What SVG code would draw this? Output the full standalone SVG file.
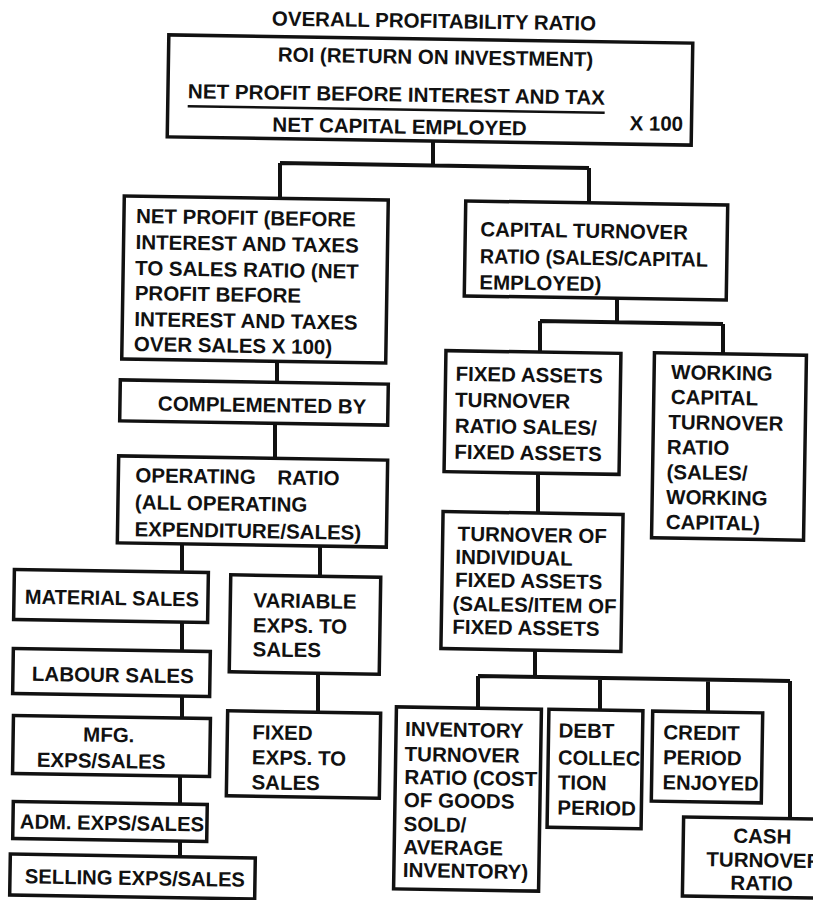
<svg xmlns="http://www.w3.org/2000/svg" width="813" height="900" viewBox="0 0 813 900">
  <style>
    .box { fill: #fff; stroke: #111; stroke-width: 3.5; }
    .lbl { font-family: "Liberation Sans", Arial, Helvetica, sans-serif; font-weight: bold; font-size: 20.5px; fill: #111; }
    .mid { text-anchor: middle; }
    .wire { fill: none; stroke: #111; stroke-width: 4; stroke-linejoin: miter; }
  </style>
  <rect width="813" height="900" fill="#fff"/>

  <text class="lbl mid" x="434" y="28" transform="rotate(0.9 434 22)">OVERALL PROFITABILITY RATIO</text>

  <!-- tree connectors (the page is set slightly askew, so the long bars slope a little) -->
  <g id="connectors" class="wire">
    <path d="M433 138 V165 M280 163 L589 168 M280 163 V198 M589 168 V203"/>
    <path d="M277 361 V382"/>
    <path d="M275 423 V458"/>
    <path d="M182 545 V571 M320 547 V576"/>
    <path d="M182 621 V650"/>
    <path d="M182 695 V717"/>
    <path d="M180 775 V803"/>
    <path d="M180 840 V856"/>
    <path d="M318 673 V712"/>
    <path d="M617 298 V322 M540 321 L723 324 M540 321 V352 M723 324 V354"/>
    <path d="M538 473 V513"/>
    <path d="M535 650 V677 M478 676 L790 681 M478 676 V708 M600 678 V710 M708 680 V712 M790 681 V818"/>
  </g>

  <g id="roi" transform="rotate(0.9 430 90)">
    <rect class="box" x="168" y="39" width="524" height="102"/>
    <text class="lbl mid" x="435" y="64">ROI (RETURN ON INVESTMENT)</text>
    <text class="lbl" x="188" y="102" textLength="417" lengthAdjust="spacingAndGlyphs">NET PROFIT BEFORE INTEREST AND TAX</text>
    <line x1="188" y1="110" x2="605" y2="110" stroke="#111" stroke-width="2.5"/>
    <text class="lbl" x="273" y="134">NET CAPITAL EMPLOYED</text>
    <text class="lbl" x="630" y="127">X 100</text>
  </g>

  <g id="net-profit" transform="rotate(0.9 255 280)">
    <rect class="box" x="123" y="198" width="264" height="163"/>
    <text class="lbl" x="135" y="225">NET PROFIT (BEFORE</text>
    <text class="lbl" x="135" y="251">INTEREST AND TAXES</text>
    <text class="lbl" x="135" y="277">TO SALES RATIO (NET</text>
    <text class="lbl" x="135" y="302">PROFIT BEFORE</text>
    <text class="lbl" x="135" y="328">INTEREST AND TAXES</text>
    <text class="lbl" x="135" y="353">OVER SALES X 100)</text>
  </g>

  <g id="capital-turnover" transform="rotate(0.9 596 250)">
    <rect class="box" x="465" y="203" width="262" height="95"/>
    <text class="lbl" x="480" y="238">CAPITAL TURNOVER</text>
    <text class="lbl" x="480" y="265" textLength="228" lengthAdjust="spacingAndGlyphs">RATIO (SALES/CAPITAL</text>
    <text class="lbl" x="480" y="291">EMPLOYED)</text>
  </g>

  <g id="complemented" transform="rotate(0.9 254 402)">
    <rect class="box" x="120" y="382" width="268" height="41"/>
    <text class="lbl" x="158" y="412">COMPLEMENTED BY</text>
  </g>

  <g id="operating" transform="rotate(0.9 252 501)">
    <rect class="box" x="118" y="458" width="269" height="87"/>
    <text class="lbl" y="484"><tspan x="135">OPERATING</tspan><tspan x="277">RATIO</tspan></text>
    <text class="lbl" x="135" y="511">(ALL OPERATING</text>
    <text class="lbl" x="135" y="538">EXPENDITURE/SALES)</text>
  </g>

  <g id="fixed-assets" transform="rotate(0.9 532 412)">
    <rect class="box" x="445" y="352" width="175" height="121"/>
    <text class="lbl" x="455" y="382">FIXED ASSETS</text>
    <text class="lbl" x="455" y="408">TURNOVER</text>
    <text class="lbl" x="455" y="434">RATIO SALES/</text>
    <text class="lbl" x="455" y="460">FIXED ASSETS</text>
  </g>

  <g id="working-capital" transform="rotate(0.9 729 446)">
    <rect class="box" x="653" y="354" width="152" height="185"/>
    <text class="lbl" x="670" y="380">WORKING</text>
    <text class="lbl" x="670" y="405">CAPITAL</text>
    <text class="lbl" x="668" y="430">TURNOVER</text>
    <text class="lbl" x="667" y="455">RATIO</text>
    <text class="lbl" x="667" y="480">(SALES/</text>
    <text class="lbl" x="667" y="505">WORKING</text>
    <text class="lbl" x="667" y="530">CAPITAL)</text>
  </g>

  <g id="material" transform="rotate(0.9 111 596)">
    <rect class="box" x="14" y="571" width="194" height="50"/>
    <text class="lbl" x="25" y="605" textLength="174" lengthAdjust="spacingAndGlyphs">MATERIAL SALES</text>
  </g>

  <g id="variable" transform="rotate(0.9 305 624)">
    <rect class="box" x="230" y="576" width="150" height="97"/>
    <text class="lbl" x="253" y="608">VARIABLE</text>
    <text class="lbl" x="253" y="633">EXPS. TO</text>
    <text class="lbl" x="253" y="657">SALES</text>
  </g>

  <g id="labour" transform="rotate(0.9 111 672)">
    <rect class="box" x="13" y="650" width="197" height="45"/>
    <text class="lbl" x="32" y="682">LABOUR SALES</text>
  </g>

  <g id="mfg" transform="rotate(0.9 111 746)">
    <rect class="box" x="13" y="717" width="197" height="58"/>
    <text class="lbl" x="83" y="742">MFG.</text>
    <text class="lbl" x="37" y="768">EXPS/SALES</text>
  </g>

  <g id="adm" transform="rotate(0.9 110 821)">
    <rect class="box" x="13" y="803" width="194" height="37"/>
    <text class="lbl" x="20" y="830" textLength="184" lengthAdjust="spacingAndGlyphs">ADM. EXPS/SALES</text>
  </g>

  <g id="selling" transform="rotate(0.9 132 876)">
    <rect class="box" x="10" y="856" width="245" height="41"/>
    <text class="lbl" x="25" y="885" textLength="220" lengthAdjust="spacingAndGlyphs">SELLING EXPS/SALES</text>
  </g>

  <g id="fixed-exps" transform="rotate(0.9 303 754)">
    <rect class="box" x="227" y="712" width="153" height="85"/>
    <text class="lbl" x="252" y="740">FIXED</text>
    <text class="lbl" x="252" y="765">EXPS. TO</text>
    <text class="lbl" x="252" y="790">SALES</text>
  </g>

  <g id="individual-assets" transform="rotate(0.9 532 581)">
    <rect class="box" x="442" y="513" width="180" height="137"/>
    <text class="lbl" x="457" y="542">TURNOVER OF</text>
    <text class="lbl" x="455" y="565">INDIVIDUAL</text>
    <text class="lbl" x="455" y="588">FIXED ASSETS</text>
    <text class="lbl" x="453" y="612">(SALES/ITEM OF</text>
    <text class="lbl" x="453" y="635">FIXED ASSETS</text>
  </g>

  <g id="inventory" transform="rotate(0.9 467 799)">
    <rect class="box" x="395" y="708" width="145" height="182"/>
    <text class="lbl" x="404" y="737">INVENTORY</text>
    <text class="lbl" x="404" y="762">TURNOVER</text>
    <text class="lbl" x="404" y="785" textLength="133" lengthAdjust="spacingAndGlyphs">RATIO (COST</text>
    <text class="lbl" x="404" y="808">OF GOODS</text>
    <text class="lbl" x="404" y="832">SOLD/</text>
    <text class="lbl" x="404" y="855">AVERAGE</text>
    <text class="lbl" x="404" y="878">INVENTORY)</text>
  </g>

  <g id="debt" transform="rotate(0.9 595 769)">
    <rect class="box" x="548" y="710" width="94" height="118"/>
    <text class="lbl" x="558" y="738">DEBT</text>
    <text class="lbl" x="558" y="765" textLength="82" lengthAdjust="spacingAndGlyphs">COLLEC</text>
    <text class="lbl" x="558" y="790">TION</text>
    <text class="lbl" x="558" y="815">PERIOD</text>
  </g>

  <g id="credit" transform="rotate(0.9 707 757)">
    <rect class="box" x="652" y="712" width="110" height="90"/>
    <text class="lbl" x="663" y="740">CREDIT</text>
    <text class="lbl" x="663" y="765">PERIOD</text>
    <text class="lbl" x="663" y="790" textLength="96" lengthAdjust="spacingAndGlyphs">ENJOYED</text>
  </g>

  <g id="cash" transform="rotate(0.9 750 857)">
    <rect class="box" x="683" y="818" width="150" height="79"/>
    <text class="lbl mid" x="762" y="843">CASH</text>
    <text class="lbl mid" x="764" y="867">TURNOVER</text>
    <text class="lbl mid" x="762" y="890">RATIO</text>
  </g>
</svg>
